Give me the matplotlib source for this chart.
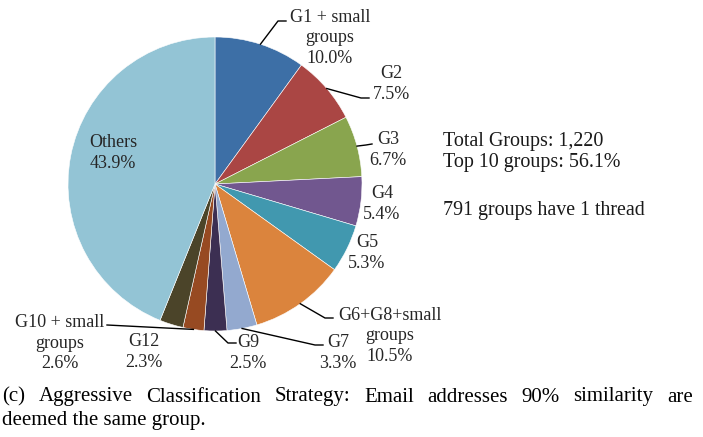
import numpy as np
import matplotlib
matplotlib.use("Agg")
import matplotlib.pyplot as plt

# slices, clockwise from 12 o'clock
labels = ["G1 + small\ngroups", "G2", "G3", "G4", "G5", "G6+G8+small\ngroups",
          "G7", "G9", "G12", "G10 + small\ngroups", "Others"]
shares = [10.0, 7.5, 6.7, 5.4, 5.3, 10.5, 3.3, 2.5, 2.3, 2.6, 43.9]
colors = ["#3D6FA6", "#AA4644", "#89A54E", "#71578F", "#4198AF", "#DB843D",
          "#93A9CF", "#3C2F52", "#974A22", "#4B4429", "#93C4D5"]

side_block = ["Total Groups: 1,220", "Top 10 groups: 56.1%"]
side_note = "791 groups have 1 thread"
caption = ["(c) Aggressive Classification Strategy: Email addresses 90% similarity are",
           "deemed the same group."]

W, H = 703, 437
CX, CY, R = 215, 184, 147

# label layout in pixels: (text centre x, y), leader (wedge index, elbow, end) or None
label_pos = [(330, 38), (391, 84), (388, 150), (382, 204), (367, 253), (390, 336),
             (338, 353), (248, 353), (144, 352), (60, 343), (113, 153)]
leaders = {0: (0, (278, 21), (286, 21)),
           1: (1, (361, 98), (369, 98)),
           2: (2, (366, 145), (372, 144)),
           5: (5, (325, 318), (333, 318)),
           6: (6, (315, 345), (323, 345)),
           7: (7, (228, 343), (236, 343)),
           9: (8, (107, 325), (107, 325))}

plt.rcParams["font.family"] = ["Liberation Serif", "DejaVu Serif"]

fig = plt.figure(figsize=(W / 100, H / 100), dpi=100)
ax = fig.add_axes([(CX - R) / W, (H - CY - R) / H, 2 * R / W, 2 * R / H])
wedges, _ = ax.pie(shares, colors=colors, startangle=90, counterclock=False,
                   radius=1, wedgeprops=dict(edgecolor="white", linewidth=0.4))
ax.set_xlim(-1, 1)
ax.set_ylim(-1, 1)


def px(x, y):
    return (x - CX) / R, (CY - y) / R


for i, (lab, val) in enumerate(zip(labels, shares)):
    tx, ty = px(*label_pos[i])
    ax.text(tx, ty, f"{lab}\n{val:.1f}%", ha="center", va="center", fontsize=13,
            linespacing=1.3, color="#262626", clip_on=False)
    if i in leaders:
        wi, elbow, end = leaders[i]
        w = wedges[wi]
        mid = np.deg2rad((w.theta1 + w.theta2) / 2)
        xs = [np.cos(mid), px(*elbow)[0], px(*end)[0]]
        ys = [np.sin(mid), px(*elbow)[1], px(*end)[1]]
        ax.plot(xs, ys, color="black", lw=1, clip_on=False)

fig.text(443 / W, 1 - 152 / H, "\n".join(side_block), ha="left", va="center",
         fontsize=14.4, linespacing=1.12, color="#1a1a1a")
fig.text(443 / W, 1 - 211 / H, side_note, ha="left", va="center",
         fontsize=14.4, color="#1a1a1a")

# justified caption
fig.canvas.draw()
renderer = fig.canvas.get_renderer()
x0, x1 = 2, 693
for k, line in enumerate(caption):
    y = 1 - (397 + 24 * k) / H
    words = line.split(" ")
    if k == len(caption) - 1:
        fig.text(x0 / W, y, line, ha="left", va="center", fontsize=15, color="black")
        continue
    arts = [fig.text(0, y, wd, ha="left", va="center", fontsize=15, color="black")
            for wd in words]
    widths = [a.get_window_extent(renderer).width for a in arts]
    gap = (x1 - x0 - sum(widths)) / (len(words) - 1)
    x = x0
    for a, wd in zip(arts, widths):
        a.set_x(x / W)
        x += wd + gap

fig.savefig("out.png", dpi=100)
